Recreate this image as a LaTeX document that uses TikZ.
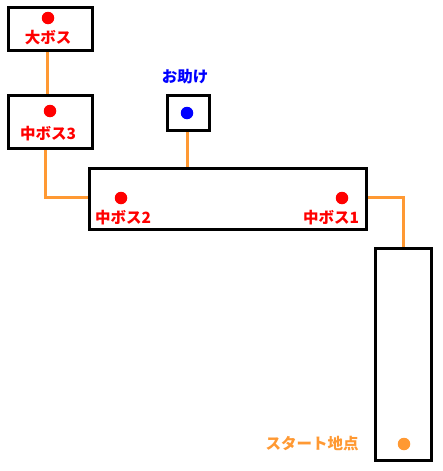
\documentclass[tikz,border=0pt]{standalone}
\usepackage{fontspec}
\setmainfont{Noto Sans CJK JP}
\definecolor{routeorange}{RGB}{255,153,51}

\begin{document}
\begin{tikzpicture}[x=1pt, y=-1pt,
  room/.style={draw, line width=3pt, inner sep=0pt},
  spot/.style={circle, fill=#1, inner sep=0pt, minimum size=12.5pt},
  tag/.style={text=#1, inner sep=0pt, font=\fontsize{15.5pt}{15.5pt}\selectfont\bfseries},
  route/.style={draw=routeorange, line width=3pt}]
  \useasboundingbox (0,0) rectangle (443,471);
  % rooms
  \node[room, minimum width=84pt, minimum height=43pt]  (BOSS)  at (50.5, 29)    {};
  \node[room, minimum width=84pt, minimum height=53pt]  (MID3)  at (50.5, 122)   {};
  \node[room, minimum width=42pt, minimum height=35pt]  (HELP)  at (188.5, 113)  {};
  \node[room, minimum width=277pt, minimum height=61pt] (HALL)  at (228, 199)    {};
  \node[room, minimum width=56pt, minimum height=212pt] (START) at (403.5, 354.5) {};
  % spots and their names
  \node[spot=red]         (BOSSd)  at (48, 18)   {};
  \node[tag=red]          (BOSSt)  at (48, 38)   {大ボス};
  \node[spot=red]         (MID3d)  at (50, 111)  {};
  \node[tag=red]          (MID3t)  at (48, 134)  {中ボス3};
  \node[spot=blue]        (HELPd)  at (187, 113) {};
  \node[tag=blue]         (HELPt)  at (185, 77)  {お助け};
  \node[spot=red]         (MID2d)  at (121, 198) {};
  \node[tag=red]          (MID2t)  at (123, 218) {中ボス2};
  \node[spot=red]         (MID1d)  at (342, 198) {};
  \node[tag=red]          (MID1t)  at (331, 218) {中ボス1};
  \node[spot=routeorange] (STARTd) at (404, 444) {};
  \node[tag=routeorange]  (STARTt) at (312, 444) {スタート地点};
  % routes
  \path[route] ([xshift=-3.5pt]BOSS.south) -- ([xshift=-3.5pt]MID3.north);
  \path[route] ([xshift=-5.5pt]MID3.south) |- ([yshift=2pt]HALL.west);
  \path[route] ([xshift=-1.5pt]HELP.south) -- ([xshift=-1.5pt]HELP.south |- HALL.north);
  \path[route] ([yshift=2pt]HALL.east) -| (START.north);
\end{tikzpicture}
\end{document}
